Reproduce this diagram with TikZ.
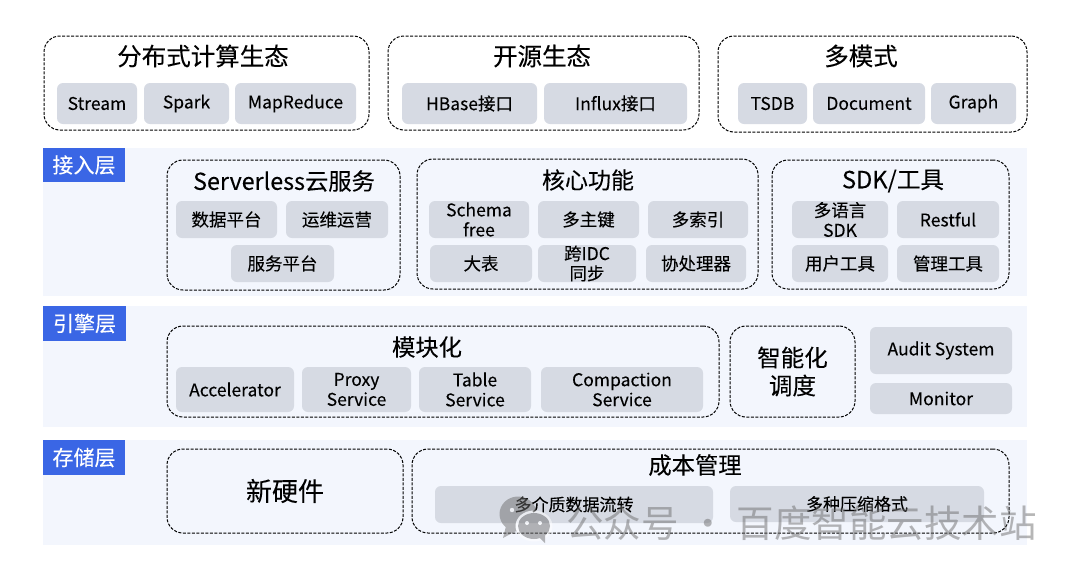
\documentclass[tikz,border=0pt]{standalone}
\usepackage{fontspec}
\setmainfont[FakeBold=0.12]{Noto Sans CJK SC}
\newfontfamily\wmfont{Noto Sans CJK SC}
\usetikzlibrary{calc}
\definecolor{chipfill}{HTML}{D6DAE3}
\definecolor{bandfill}{HTML}{F3F6FD}
\definecolor{labelfill}{HTML}{3A66E5}
\definecolor{wmark}{HTML}{6E6E6E}
\newcommand{\fsz}[1]{\fontsize{#1}{#1}\selectfont}
\newcommand{\dn}[1]{\raisebox{-1.3pt}{#1}}
\tikzset{
  chipbox/.style={rectangle,rounded corners=6,fill=chipfill,inner sep=0pt,align=center,text=black,
    font=\fontsize{17.5}{20}\selectfont},
  groupbox/.style={rectangle,rounded corners=16,draw=black,line width=1pt,dash pattern=on 3pt off 1.5pt,inner sep=0pt,align=center,
    font=\fontsize{23.5}{28}\selectfont},
  bandbox/.style={rectangle,fill=bandfill,inner sep=0pt},
  labelbox/.style={rectangle,fill=labelfill,inner sep=0pt,text=white,font=\fontsize{21}{24}\selectfont},
  titletext/.style={inner sep=0pt,font=\fontsize{24.5}{30}\selectfont},
}
% name, x0, y0, x1, y1, style, text
\newcommand{\bx}[7]{%
  \pgfmathsetmacro{\cxx}{(#2+#4)/2}\pgfmathsetmacro{\cyy}{(#3+#5)/2}%
  \pgfmathsetmacro{\www}{#4-#2}\pgfmathsetmacro{\hhh}{#5-#3}%
  \node[#6,minimum width=\www pt,minimum height=\hhh pt] (#1) at (\cxx,\cyy) {#7};}
\begin{document}
\begin{tikzpicture}[x=1pt,y=-1pt]
\useasboundingbox (0,0) rectangle (1080,579);
% bands
\bx{bandA}{43}{148}{1027}{296}{bandbox}{}
\bx{bandB}{43}{306}{1027}{427}{bandbox}{}
\bx{bandC}{43}{440}{1027}{545}{bandbox}{}
\bx{labA}{43}{148}{125}{182}{labelbox}{接入层}
\bx{labB}{43}{306}{126}{341}{labelbox}{引擎层}
\bx{labC}{43}{440}{125}{475}{labelbox}{存储层}
% top row
\bx{gDist}{44}{36}{369}{130}{groupbox}{}
\node[titletext] (tDist) at (203,56) {分布式计算生态};
\bx{cStream}{57}{83}{137}{124}{chipbox}{\dn{Stream}}
\bx{cSpark}{144}{83}{229}{124}{chipbox}{\dn{Spark}}
\bx{cMR}{235}{83}{356}{124}{chipbox}{\dn{MapReduce}}
\bx{gOpen}{388}{36}{699}{130}{groupbox}{}
\node[titletext] (tOpen) at (542,56) {开源生态};
\bx{cHB}{402}{83}{537}{124}{chipbox}{HBase接口}
\bx{cIn}{544}{83}{687}{124}{chipbox}{Influx接口}
\bx{gMulti}{718}{36}{1027}{132}{groupbox}{}
\node[titletext] (tMulti) at (861,56) {多模式};
\bx{cTS}{738}{83}{807}{124}{chipbox}{\dn{TSDB}}
\bx{cDoc}{813}{83}{925}{124}{chipbox}{\dn{Document}}
\bx{cGr}{931}{83}{1016}{124}{chipbox}{\dn{Graph}}
% access layer
\bx{gSl}{167}{160}{400}{290}{groupbox}{}
\node[titletext,font=\fontsize{23.3}{28}\selectfont] (tSl) at (284,181) {Serverless云服务};
\bx{cData}{176}{201}{277}{238}{chipbox}{数据平台}
\bx{cOps}{286}{201}{388}{238}{chipbox}{运维运营}
\bx{cSvc}{231}{245}{334}{282}{chipbox}{服务平台}
\bx{gCore}{417}{159}{758}{289}{groupbox}{}
\node[titletext,font=\fontsize{23}{28}\selectfont] (tCore) at (588,180) {核心功能};
\bx{cSch}{429}{201}{529}{238}{chipbox}{Schema\\free}
\bx{cKey}{538}{201}{639}{238}{chipbox}{多主键}
\bx{cIdx}{648}{201}{748}{238}{chipbox}{多索引}
\bx{cBig}{430}{245}{532}{282}{chipbox}{大表}
\bx{cIdc}{538}{245}{636}{282}{chipbox}{跨IDC\\同步}
\bx{cCo}{646}{245}{746}{282}{chipbox}{协处理器}
\bx{gSdk}{772}{160}{1009}{289}{groupbox}{}
\node[titletext,font=\fontsize{23.6}{28}\selectfont] (tSdk) at (893,181) {SDK/工具};
\bx{cLang}{792}{201}{888}{238}{chipbox}{多语言\\SDK}
\bx{cRest}{897}{201}{999}{238}{chipbox}{Restful}
\bx{cUser}{792}{245}{888}{282}{chipbox}{用户工具}
\bx{cAdm}{897}{245}{999}{282}{chipbox}{管理工具}
% engine layer
\bx{gMod}{167}{326}{719}{417}{groupbox}{}
\node[titletext,font=\fontsize{23.3}{28}\selectfont] (tMod) at (427,347) {模块化};
\bx{cAcc}{176}{367}{294}{412}{chipbox}{Accelerator}
\bx{cPrx}{302}{367}{411}{412}{chipbox}{Proxy\\Service}
\bx{cTbl}{419}{367}{531}{412}{chipbox}{Table\\Service}
\bx{cCmp}{541}{367}{703}{412}{chipbox}{Compaction\\Service}
\bx{gSch}{730}{326}{855}{417}{groupbox}{智能化\\调度}
\bx{cAud}{870}{327}{1012}{374}{chipbox}{\dn{Audit System}}
\bx{cMon}{870}{383}{1012}{414}{chipbox}{Monitor}
% storage layer
\bx{gHw}{167}{449}{403}{533}{groupbox,font=\fontsize{26}{30}\selectfont}{新硬件}
\bx{gCost}{412}{449}{1009}{533}{groupbox}{}
\node[titletext,font=\fontsize{23.3}{28}\selectfont] (tCost) at (695,465) {成本管理};
\bx{cMed}{435}{486}{713}{523}{chipbox}{\fsz{17}\raisebox{1.5pt}{多介质数据流转}}
\bx{cCmpr}{730}{486}{984}{522}{chipbox}{\fsz{17}\raisebox{1.5pt}{多种压缩格式}}
% watermark
\begin{scope}[opacity=0.5,transparency group]
\fill[wmark] (518,514) ellipse [x radius=18.5,y radius=17.5];
\fill[wmark] (506,526) -- (503,538) -- (516,531) -- cycle;
\fill[white] (512,510) circle (2.2pt);
\fill[white] (534,526) ellipse [x radius=18.5,y radius=15.5];
\fill[wmark] (534,526) ellipse [x radius=16,y radius=13];
\fill[wmark] (537,535) -- (545,543) -- (545,533) -- cycle;
\fill[white] (527,523) circle (2pt);
\fill[white] (540,523) circle (2pt);
\end{scope}
\begin{scope}[opacity=0.5]
\node[text=wmark,inner sep=0pt,anchor=west,font=\wmfont\fontsize{37.5}{40}\selectfont] (wm) at (566,523) {公众号\hspace{2pt} · \hspace{2pt}百度智能云技术站};
\end{scope}
\end{tikzpicture}
\end{document}
